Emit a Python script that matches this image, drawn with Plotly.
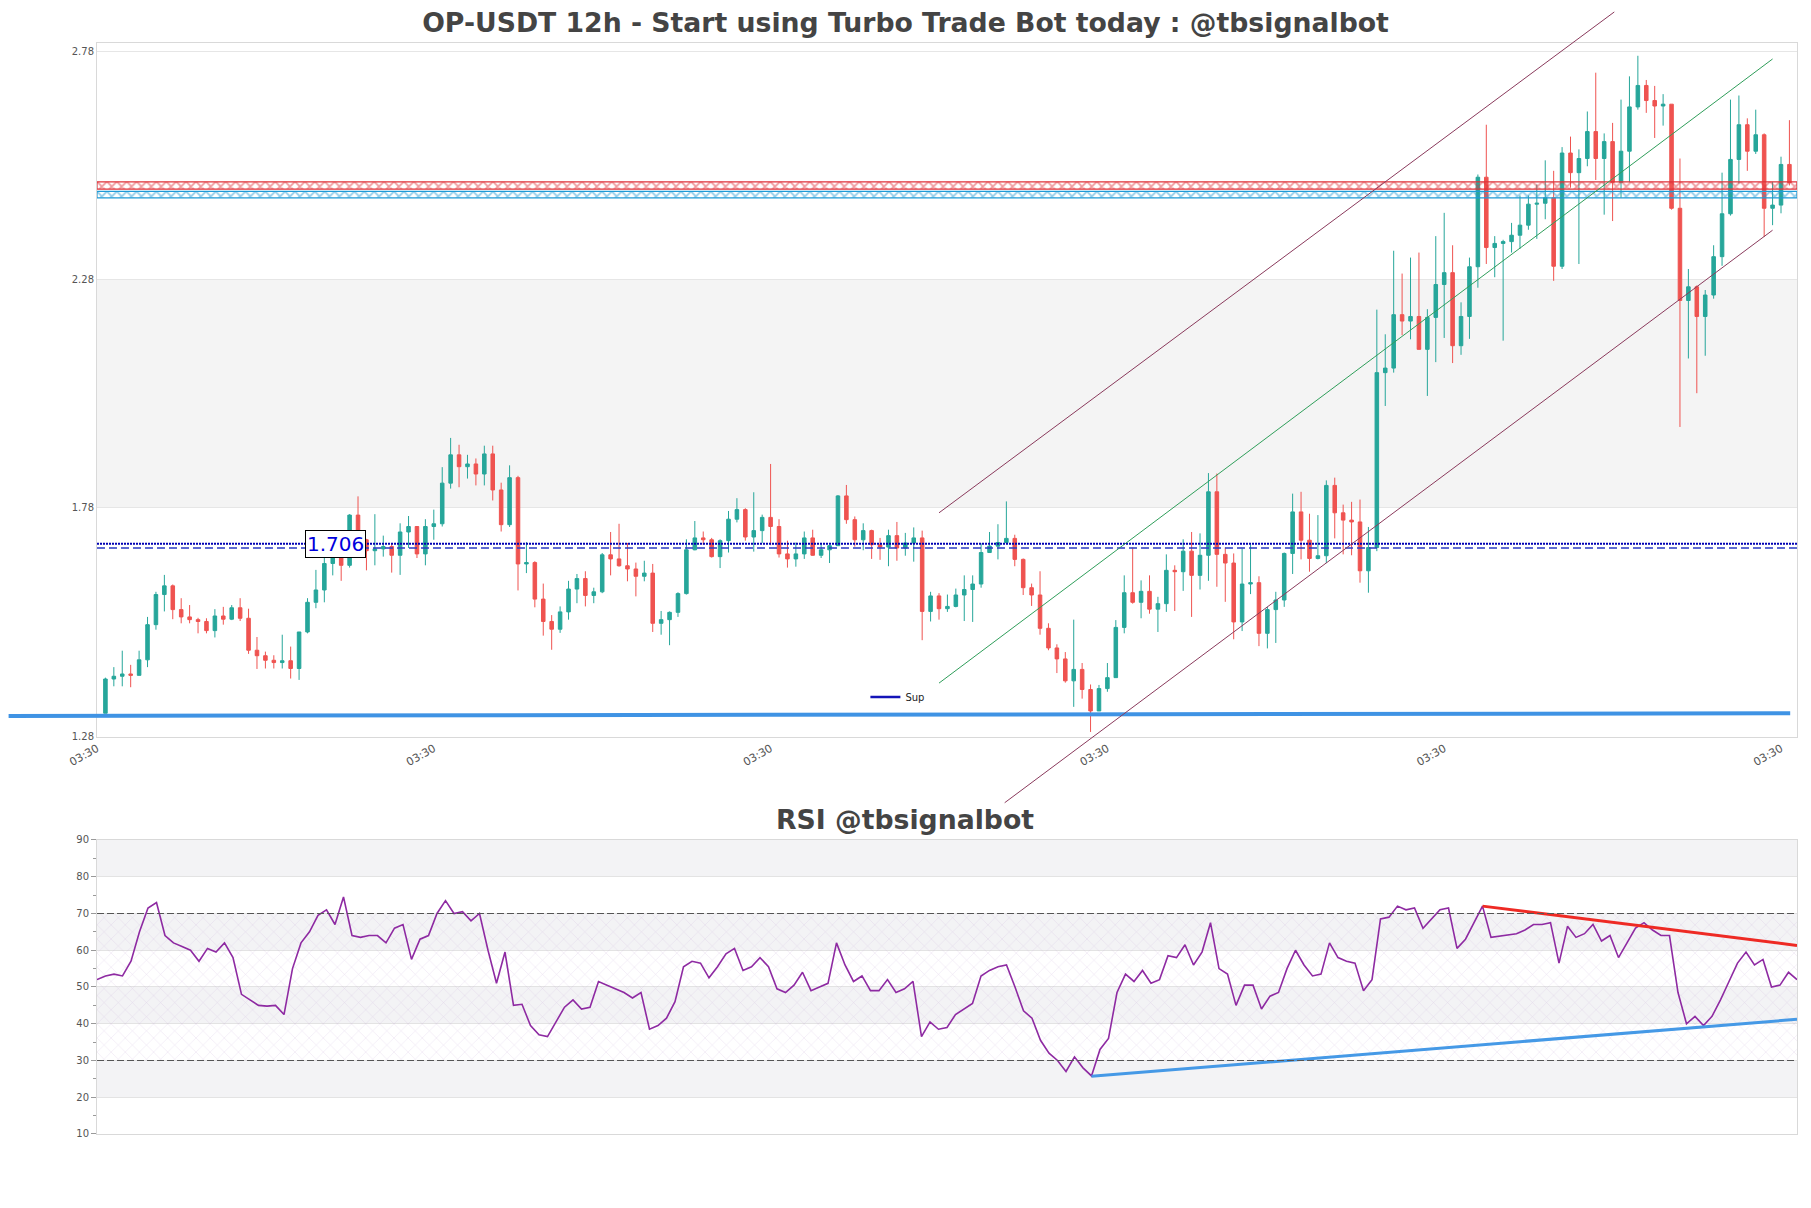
import plotly.graph_objects as go

# one candle every 12h, candle 1 is the first one on the chart
candle_idx = list(range(1, 202))

opens = [
    1.330, 1.405, 1.411, 1.416, 1.413, 1.447, 1.524, 1.590, 1.609, 1.557,
    1.541, 1.535, 1.531, 1.511, 1.543, 1.536, 1.561, 1.538, 1.468, 1.456,
    1.446, 1.441, 1.445, 1.428, 1.508, 1.573, 1.600, 1.658, 1.675, 1.654,
    1.764, 1.710, 1.686, 1.690, 1.695, 1.676, 1.727, 1.739, 1.679, 1.739,
    1.745, 1.834, 1.896, 1.870, 1.876, 1.854, 1.898, 1.819, 1.743, 1.846,
    1.657, 1.660, 1.580, 1.531, 1.514, 1.552, 1.602, 1.625, 1.588, 1.596,
    1.677, 1.668, 1.653, 1.646, 1.630, 1.637, 1.527, 1.535, 1.551, 1.592,
    1.688, 1.714, 1.710, 1.673, 1.708, 1.755, 1.776, 1.716, 1.730, 1.759,
    1.739, 1.679, 1.668, 1.679, 1.714, 1.676, 1.688, 1.697, 1.806, 1.754,
    1.710, 1.730, 1.699, 1.694, 1.719, 1.692, 1.703, 1.714, 1.553, 1.587,
    1.559, 1.564, 1.589, 1.601, 1.613, 1.682, 1.696, 1.704, 1.713, 1.667,
    1.605, 1.589, 1.516, 1.473, 1.449, 1.401, 1.426, 1.382, 1.335, 1.384,
    1.408, 1.518, 1.594, 1.573, 1.597, 1.558, 1.570, 1.643, 1.640, 1.685,
    1.632, 1.676, 1.815, 1.678, 1.659, 1.530, 1.613, 1.616, 1.505, 1.557,
    1.578, 1.680, 1.771, 1.709, 1.669, 1.675, 1.829, 1.769, 1.753, 1.749,
    1.642, 1.693, 2.076, 2.086, 2.203, 2.189, 2.199, 2.127, 2.197, 2.269,
    2.295, 2.135, 2.199, 2.308, 2.504, 2.350, 2.359, 2.363, 2.377, 2.399,
    2.445, 2.447, 2.459, 2.309, 2.557, 2.514, 2.545, 2.604, 2.545, 2.582,
    2.493, 2.561, 2.658, 2.705, 2.672, 2.660, 2.664, 2.436, 2.234, 2.264,
    2.199, 2.246, 2.330, 2.424, 2.543, 2.619, 2.561, 2.597, 2.436, 2.443,
    2.532,
]

highs = [
    1.408, 1.431, 1.467, 1.436, 1.467, 1.541, 1.596, 1.633, 1.612, 1.582,
    1.567, 1.539, 1.538, 1.558, 1.563, 1.567, 1.582, 1.559, 1.497, 1.465,
    1.457, 1.502, 1.476, 1.508, 1.582, 1.644, 1.675, 1.700, 1.684, 1.766,
    1.805, 1.712, 1.766, 1.719, 1.703, 1.746, 1.762, 1.739, 1.755, 1.776,
    1.869, 1.933, 1.918, 1.896, 1.888, 1.916, 1.916, 1.835, 1.873, 1.850,
    1.705, 1.663, 1.614, 1.545, 1.564, 1.620, 1.635, 1.641, 1.605, 1.681,
    1.727, 1.745, 1.703, 1.660, 1.664, 1.657, 1.554, 1.553, 1.595, 1.711,
    1.751, 1.728, 1.714, 1.711, 1.773, 1.801, 1.779, 1.814, 1.765, 1.876,
    1.755, 1.708, 1.704, 1.728, 1.732, 1.703, 1.699, 1.808, 1.830, 1.761,
    1.746, 1.732, 1.714, 1.732, 1.749, 1.725, 1.737, 1.730, 1.596, 1.593,
    1.590, 1.603, 1.632, 1.632, 1.702, 1.727, 1.744, 1.794, 1.721, 1.669,
    1.614, 1.641, 1.527, 1.481, 1.464, 1.535, 1.440, 1.393, 1.392, 1.440,
    1.534, 1.632, 1.693, 1.621, 1.632, 1.585, 1.678, 1.654, 1.711, 1.727,
    1.724, 1.856, 1.855, 1.693, 1.680, 1.691, 1.700, 1.630, 1.563, 1.596,
    1.682, 1.811, 1.815, 1.767, 1.764, 1.840, 1.846, 1.787, 1.793, 1.798,
    1.738, 2.214, 2.160, 2.343, 2.293, 2.328, 2.339, 2.215, 2.375, 2.426,
    2.355, 2.230, 2.328, 2.510, 2.619, 2.375, 2.367, 2.404, 2.464, 2.464,
    2.488, 2.541, 2.518, 2.570, 2.593, 2.565, 2.648, 2.733, 2.600, 2.623,
    2.674, 2.725, 2.770, 2.717, 2.704, 2.686, 2.664, 2.545, 2.303, 2.267,
    2.257, 2.355, 2.514, 2.674, 2.683, 2.633, 2.652, 2.600, 2.494, 2.549,
    2.629,
]

lows = [
    1.330, 1.389, 1.389, 1.387, 1.413, 1.431, 1.513, 1.553, 1.536, 1.527,
    1.527, 1.505, 1.505, 1.496, 1.524, 1.534, 1.532, 1.460, 1.427, 1.428,
    1.428, 1.428, 1.406, 1.403, 1.505, 1.560, 1.573, 1.632, 1.620, 1.649,
    1.695, 1.643, 1.654, 1.673, 1.638, 1.633, 1.692, 1.670, 1.654, 1.710,
    1.739, 1.822, 1.825, 1.844, 1.829, 1.829, 1.796, 1.728, 1.738, 1.599,
    1.637, 1.562, 1.500, 1.469, 1.506, 1.535, 1.571, 1.564, 1.571, 1.593,
    1.632, 1.651, 1.619, 1.586, 1.619, 1.508, 1.502, 1.479, 1.541, 1.590,
    1.687, 1.699, 1.671, 1.648, 1.682, 1.748, 1.708, 1.684, 1.703, 1.698,
    1.671, 1.649, 1.651, 1.668, 1.675, 1.670, 1.659, 1.697, 1.745, 1.695,
    1.687, 1.668, 1.666, 1.652, 1.664, 1.675, 1.662, 1.490, 1.531, 1.535,
    1.552, 1.562, 1.532, 1.530, 1.605, 1.681, 1.667, 1.702, 1.652, 1.589,
    1.565, 1.502, 1.468, 1.418, 1.397, 1.344, 1.362, 1.289, 1.335, 1.377,
    1.408, 1.505, 1.570, 1.538, 1.548, 1.508, 1.552, 1.554, 1.598, 1.541,
    1.601, 1.620, 1.607, 1.574, 1.492, 1.510, 1.591, 1.477, 1.472, 1.484,
    1.563, 1.635, 1.667, 1.640, 1.667, 1.659, 1.713, 1.678, 1.676, 1.616,
    1.594, 1.685, 2.003, 2.076, 2.158, 2.149, 2.127, 2.025, 2.099, 2.152,
    2.097, 2.115, 2.150, 2.262, 2.314, 2.285, 2.146, 2.339, 2.347, 2.389,
    2.369, 2.412, 2.277, 2.303, 2.481, 2.314, 2.528, 2.498, 2.422, 2.408,
    2.459, 2.493, 2.652, 2.645, 2.590, 2.617, 2.433, 1.957, 2.107, 2.031,
    2.113, 2.238, 2.310, 2.420, 2.490, 2.518, 2.555, 2.373, 2.399, 2.425,
    2.486,
]

closes = [
    1.405, 1.411, 1.416, 1.413, 1.447, 1.524, 1.590, 1.609, 1.557, 1.541,
    1.535, 1.531, 1.511, 1.543, 1.536, 1.561, 1.538, 1.468, 1.456, 1.446,
    1.441, 1.445, 1.428, 1.508, 1.573, 1.600, 1.658, 1.675, 1.654, 1.764,
    1.710, 1.686, 1.690, 1.695, 1.676, 1.727, 1.739, 1.679, 1.739, 1.745,
    1.834, 1.896, 1.870, 1.876, 1.854, 1.898, 1.819, 1.743, 1.846, 1.657,
    1.660, 1.580, 1.531, 1.514, 1.552, 1.602, 1.625, 1.588, 1.596, 1.677,
    1.668, 1.653, 1.646, 1.630, 1.637, 1.527, 1.535, 1.551, 1.592, 1.688,
    1.714, 1.710, 1.673, 1.708, 1.755, 1.776, 1.716, 1.730, 1.759, 1.739,
    1.679, 1.668, 1.679, 1.714, 1.676, 1.688, 1.697, 1.806, 1.754, 1.710,
    1.730, 1.699, 1.694, 1.719, 1.692, 1.703, 1.714, 1.553, 1.587, 1.559,
    1.564, 1.589, 1.601, 1.613, 1.682, 1.696, 1.704, 1.713, 1.667, 1.605,
    1.589, 1.516, 1.473, 1.449, 1.401, 1.426, 1.382, 1.335, 1.384, 1.408,
    1.518, 1.594, 1.573, 1.597, 1.558, 1.570, 1.643, 1.640, 1.685, 1.632,
    1.676, 1.815, 1.678, 1.659, 1.530, 1.613, 1.616, 1.505, 1.557, 1.578,
    1.680, 1.771, 1.709, 1.669, 1.675, 1.829, 1.769, 1.753, 1.749, 1.642,
    1.693, 2.076, 2.086, 2.203, 2.189, 2.199, 2.127, 2.197, 2.269, 2.295,
    2.135, 2.199, 2.308, 2.504, 2.350, 2.359, 2.363, 2.377, 2.399, 2.445,
    2.447, 2.459, 2.309, 2.557, 2.514, 2.545, 2.604, 2.545, 2.582, 2.493,
    2.561, 2.658, 2.705, 2.672, 2.660, 2.664, 2.436, 2.234, 2.264, 2.199,
    2.246, 2.330, 2.424, 2.543, 2.619, 2.561, 2.597, 2.436, 2.443, 2.532,
    2.492,
]

rsi = [
    52, 53, 53.5, 53, 57, 65, 71.5, 73, 64, 62, 61, 60, 57, 60.5, 59.5, 62, 58, 48, 46.5, 45,
    44.8, 45, 42.5, 55, 62, 65, 69.5, 71, 67, 74.5, 64, 63.5, 64, 64, 62, 66, 67, 57.5, 63, 64,
    70, 73.5, 70, 70.5, 68, 70, 60, 51, 59.5, 45, 45.3, 39.5, 37, 36.5, 40.5, 44.5, 46.5, 44, 44.5, 51.5,
    50.5, 49.5, 48.5, 47, 48.5, 38.5, 39.5, 41.5, 46, 55.5, 57, 56.5, 52.5, 55.5, 59, 60.5, 54.5, 55.5, 58, 55.5,
    49.5, 48.5, 50.5, 54, 49, 50, 51, 62, 56, 51.5, 53, 49, 49, 52, 48.5, 49.5, 51.5, 36.5, 40.5, 38.5,
    39, 42.5, 44, 45.5, 53, 54.5, 55.5, 56, 50, 43.5, 41.5, 35.5, 32, 30, 27, 31, 28, 25.8, 33, 36,
    48.5, 53.5, 51.5, 54.5, 51, 52, 58.5, 58, 61.5, 56, 59.5, 67.5, 55, 53.5, 45, 50.5, 50.5, 44, 47.5, 48.5,
    55, 60, 56, 53, 53.5, 62, 58, 57, 56.5, 49, 52, 68.5, 69, 72, 71, 71.5, 66, 68.5, 71, 71.5,
    60.5, 63, 67.5, 72, 63.5, 63.8, 64, 64.5, 65.5, 67, 67, 67.5, 56.5, 66.5, 63.5, 64.5, 67, 62.5, 64, 58,
    62, 66, 67.5, 65.5, 64, 64, 48.5, 40, 42, 39.5, 42, 46.5, 51.5, 56.5, 59.5, 56, 57.5, 50, 50.5, 54,
    52,
]

x_tick_vals = [0, 40, 80, 120, 160, 200]
x_tick_text = ["03:30", "03:30", "03:30", "03:30", "03:30", "03:30"]
price_ticks = [1.28, 1.78, 2.28, 2.78]
rsi_ticks = [10, 20, 30, 40, 50, 60, 70, 80, 90]

# levels
sup_line = [1.324, 1.330]
pivot_dotted = 1.701
pivot_dashed = 1.692
pivot_label = "1.706"
gray_zone = [1.78, 2.28]
red_zone = [2.478, 2.494]
blue_zone = [2.459, 2.473]

# price channel (candle index, price)
chan_upper_x = [100.0, 180.2]
chan_upper_y = [1.769, 2.866]
chan_mid_x = [100.0, 199.0]
chan_mid_y = [1.396, 2.763]
chan_lower_x = [107.8, 199.0]
chan_lower_y = [1.134, 2.388]

# rsi trend lines
rsi_res_x = [164, 201]
rsi_res_y = [72.0, 61.3]
rsi_sup_x = [118, 201]
rsi_sup_y = [25.7, 41.2]
rsi_bands = [(20, 30), (40, 50), (60, 70), (80, 90)]

GREEN = "#26a69a"
RED = "#ef5350"
FONT = "DejaVu Sans"

X_RANGE = [0, 201.9]
Y_RANGE = [1.278, 2.798]
MAIN_DOM = [0.3639, 1.0]
RSI_DOM = [0.0, 0.2695]

# the page body adds 8px around the figure, so the figure is 16px smaller
FIG_W, FIG_H = 1795, 1192


def to_paper_y(p):
    frac = (p - Y_RANGE[0]) / (Y_RANGE[1] - Y_RANGE[0])
    return MAIN_DOM[0] + frac * (MAIN_DOM[1] - MAIN_DOM[0])


fig = go.Figure()

fig.add_trace(
    go.Candlestick(
        x=candle_idx,
        open=opens,
        high=highs,
        low=lows,
        close=closes,
        increasing=dict(line=dict(color=GREEN, width=1), fillcolor=GREEN),
        decreasing=dict(line=dict(color=RED, width=1), fillcolor=RED),
        whiskerwidth=0,
        showlegend=False,
        hoverinfo="skip",
        xaxis="x",
        yaxis="y",
    )
)


def hatch_row(lo, hi, color):
    return go.Scatter(
        x=[X_RANGE[0], X_RANGE[1], X_RANGE[1], X_RANGE[0], X_RANGE[0]],
        y=[lo, lo, hi, hi, lo],
        mode="lines",
        fill="toself",
        fillcolor="rgba(0,0,0,0)",
        fillpattern=dict(shape="x", fgcolor=color, bgcolor="rgba(255,255,255,0)",
                         size=7, solidity=0.45),
        line=dict(color=color, width=1.2),
        hoverinfo="skip",
        showlegend=False,
        xaxis="x",
        yaxis="y",
    )


fig.add_trace(hatch_row(red_zone[0], red_zone[1], "#e0323a"))
fig.add_trace(hatch_row(blue_zone[0], blue_zone[1], "#1f9ad6"))

# legend entry
fig.add_trace(
    go.Scatter(x=[None], y=[None], mode="lines", name="Sup",
               line=dict(color="#1414b8", width=2.5), xaxis="x", yaxis="y")
)

# RSI panel
fig.add_trace(
    go.Scatter(
        x=[1, 201, 201, 1, 1],
        y=[30, 30, 70, 70, 30],
        mode="lines",
        fill="toself",
        fillcolor="rgba(0,0,0,0)",
        fillpattern=dict(shape="x", fgcolor="rgba(185,150,205,0.6)",
                         bgcolor="rgba(255,255,255,0)", size=10, solidity=0.1),
        line=dict(width=0),
        hoverinfo="skip",
        showlegend=False,
        xaxis="x2",
        yaxis="y2",
    )
)
fig.add_trace(
    go.Scatter(x=candle_idx, y=rsi, mode="lines",
               line=dict(color="#8e2aa2", width=1.6),
               showlegend=False, hoverinfo="skip", xaxis="x2", yaxis="y2")
)
fig.add_trace(
    go.Scatter(x=rsi_res_x, y=rsi_res_y, mode="lines",
               line=dict(color="#ee2a24", width=3),
               showlegend=False, hoverinfo="skip", xaxis="x2", yaxis="y2")
)
fig.add_trace(
    go.Scatter(x=rsi_sup_x, y=rsi_sup_y, mode="lines",
               line=dict(color="#4599e6", width=3),
               showlegend=False, hoverinfo="skip", xaxis="x2", yaxis="y2")
)

shapes = []
# gray zone on price chart
shapes.append(dict(type="rect", xref="paper", yref="y", x0=0, x1=1,
                   y0=gray_zone[0], y1=gray_zone[1], fillcolor="#f4f4f4",
                   line=dict(width=0), layer="below"))
# rsi bands
for lo, hi in rsi_bands:
    shapes.append(dict(type="rect", xref="paper", yref="y2", x0=0, x1=1,
                       y0=lo, y1=hi, fillcolor="#f3f3f5",
                       line=dict(width=0), layer="below"))
for lvl in [30, 70]:
    shapes.append(dict(type="line", xref="paper", yref="y2", x0=0, x1=1,
                       y0=lvl, y1=lvl, line=dict(color="#555555", width=1.2, dash="7px,3px")))

# pivot lines
shapes.append(dict(type="line", xref="paper", yref="y", x0=0, x1=1,
                   y0=pivot_dotted, y1=pivot_dotted,
                   line=dict(color="#0000b4", width=2, dash="2px,1px")))
shapes.append(dict(type="line", xref="paper", yref="y", x0=0, x1=1,
                   y0=pivot_dashed, y1=pivot_dashed,
                   line=dict(color="#2a3ac4", width=1.4, dash="8px,4px")))

# support line, runs past the left edge of the plot
shapes.append(dict(type="line", xref="paper", yref="y", x0=-0.052, x1=0.996,
                   y0=sup_line[0], y1=sup_line[1],
                   line=dict(color="#3f93e4", width=4)))

# channel (only clipped horizontally)
for xs, ys, col in [
    (chan_upper_x, chan_upper_y, "#8a3a5c"),
    (chan_mid_x, chan_mid_y, "#2f9e5a"),
    (chan_lower_x, chan_lower_y, "#8a3a5c"),
]:
    shapes.append(dict(type="line", xref="x", yref="paper",
                       x0=xs[0], x1=xs[1], y0=to_paper_y(ys[0]), y1=to_paper_y(ys[1]),
                       line=dict(color=col, width=1)))

fig.update_layout(
    width=FIG_W,
    height=FIG_H,
    margin=dict(l=89, r=6, t=35, b=66),
    paper_bgcolor="white",
    plot_bgcolor="white",
    font=dict(family=FONT, size=10, color="#555555"),
    title=dict(
        text="<b>OP-USDT 12h - Start using Turbo Trade Bot today : @tbsignalbot</b>",
        x=0.5, xref="container", xanchor="center",
        y=1 - 15 / FIG_H, yref="container", yanchor="middle",
        font=dict(family=FONT, size=26.7, color="#444444"),
    ),
    boxgap=0.4,
    shapes=shapes,
    showlegend=True,
    legend=dict(x=0.452, y=0.4005, xanchor="left", yanchor="middle",
                bgcolor="rgba(0,0,0,0)", font=dict(size=10, color="#222222")),
    xaxis=dict(
        domain=[0, 1], anchor="y", range=X_RANGE,
        tickvals=x_tick_vals, ticktext=x_tick_text, tickangle=-30,
        ticks="", showgrid=False, zeroline=False,
        showline=True, mirror=True, linecolor="#d9d9d9",
        rangeslider=dict(visible=False),
        tickfont=dict(size=11, color="#555555"),
    ),
    yaxis=dict(
        domain=MAIN_DOM, anchor="x", range=Y_RANGE,
        tickvals=price_ticks, tickformat=".2f", ticks="",
        showgrid=True, gridcolor="#e6e6e6", zeroline=False,
        showline=True, mirror=True, linecolor="#d9d9d9",
        tickfont=dict(size=10, color="#555555"),
    ),
    xaxis2=dict(
        domain=[0, 1], anchor="y2", range=[1, 201],
        showticklabels=False, ticks="", showgrid=False, zeroline=False,
        showline=True, mirror=True, linecolor="#d9d9d9",
    ),
    yaxis2=dict(
        domain=RSI_DOM, anchor="x2", range=[10, 90],
        tickvals=rsi_ticks, ticks="outside", ticklen=5, tickcolor="#999999",
        minor=dict(dtick=5, ticks="outside", ticklen=3, tickcolor="#999999", showgrid=False),
        showgrid=True, gridcolor="#e3e3e3", zeroline=False,
        showline=True, mirror=True, linecolor="#d9d9d9",
        tickfont=dict(size=10, color="#555555"),
    ),
    annotations=[
        dict(x=28.3, y=pivot_dotted, xref="x", yref="y", text=pivot_label,
             showarrow=False, font=dict(family=FONT, size=20, color="#0000dd"),
             bgcolor="white", bordercolor="black", borderwidth=1, borderpad=1),
        dict(x=0.4753, y=(1134 - 819) / 1091, xref="paper", yref="paper",
             text="<b>RSI @tbsignalbot</b>", showarrow=False,
             xanchor="center", yanchor="middle",
             font=dict(family=FONT, size=26.7, color="#444444")),
    ],
)

fig.write_html("out.html")
